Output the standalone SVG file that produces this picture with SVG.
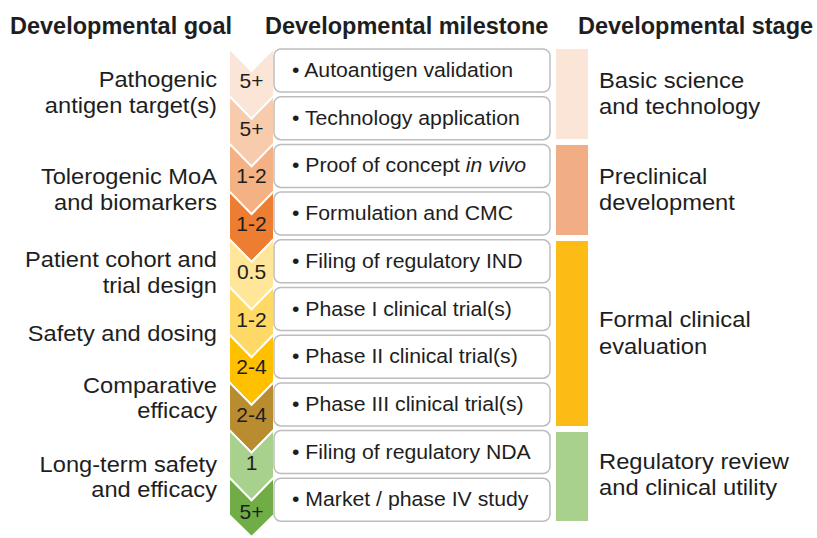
<svg xmlns="http://www.w3.org/2000/svg" width="817" height="538" viewBox="0 0 817 538">
<style>
text{font-family:"Liberation Sans",Arial,Helvetica,sans-serif;fill:#1e1e1e}
.hdr{font-size:23.5px;font-weight:bold}
.goal{font-size:21.5px;text-anchor:end}
.stage{font-size:22px}
.ms{font-size:19.5px}
.num{font-size:21px;text-anchor:middle}
.chev{stroke:#ffffff;stroke-width:2;stroke-linejoin:miter}
.box{fill:#ffffff;stroke:#bdbdbd;stroke-width:1.5}
</style>
<rect width="817" height="538" fill="#ffffff"/>
<g id="headers">
<text class="hdr" x="10" y="34">Developmental goal</text>
<text class="hdr" x="265" y="34">Developmental milestone</text>
<text class="hdr" x="578" y="34">Developmental stage</text>
</g>
<g id="goals">
<text class="goal" transform="translate(217 87) scale(1.1 1)">Pathogenic</text>
<text class="goal" transform="translate(217 113) scale(1.1 1)">antigen target(s)</text>
<text class="goal" transform="translate(217 184) scale(1.1 1)">Tolerogenic MoA</text>
<text class="goal" transform="translate(217 210) scale(1.1 1)">and biomarkers</text>
<text class="goal" transform="translate(217 267) scale(1.1 1)">Patient cohort and</text>
<text class="goal" transform="translate(217 293) scale(1.1 1)">trial design</text>
<text class="goal" transform="translate(217 341) scale(1.1 1)">Safety and dosing</text>
<text class="goal" transform="translate(217 393) scale(1.1 1)">Comparative</text>
<text class="goal" transform="translate(217 418) scale(1.1 1)">efficacy</text>
<text class="goal" transform="translate(217 472) scale(1.1 1)">Long-term safety</text>
<text class="goal" transform="translate(217 497) scale(1.1 1)">and efficacy</text>
</g>
<g id="row1">
<path class="chev" fill="#FBE5D6" d="M229,48 L251.5,71 L274,48 L274,96 L251.5,119 L229,96 Z"/>
<text class="num" x="251.5" y="88">5+</text>
<rect class="box" x="274" y="49" width="276" height="43" rx="7"/>
<text class="ms" transform="translate(292 77) scale(1.09 1)">• Autoantigen validation</text>
</g>
<g id="row2">
<path class="chev" fill="#F8CBAD" d="M229,95.7 L251.5,118.7 L274,95.7 L274,143.7 L251.5,166.7 L229,143.7 Z"/>
<text class="num" x="251.5" y="135.7">5+</text>
<rect class="box" x="274" y="96.7" width="276" height="43" rx="7"/>
<text class="ms" transform="translate(292 124.7) scale(1.09 1)">• Technology application</text>
</g>
<g id="row3">
<path class="chev" fill="#F4B183" d="M229,143.4 L251.5,166.4 L274,143.4 L274,191.4 L251.5,214.4 L229,191.4 Z"/>
<text class="num" x="251.5" y="183.4">1-2</text>
<rect class="box" x="274" y="144.4" width="276" height="43" rx="7"/>
<text class="ms" transform="translate(292 172.4) scale(1.09 1)">• Proof of concept <tspan font-style="italic">in vivo</tspan></text>
</g>
<g id="row4">
<path class="chev" fill="#ED7D31" d="M229,191.1 L251.5,214.1 L274,191.1 L274,239.1 L251.5,262.1 L229,239.1 Z"/>
<text class="num" x="251.5" y="231.1">1-2</text>
<rect class="box" x="274" y="192.1" width="276" height="43" rx="7"/>
<text class="ms" transform="translate(292 220.1) scale(1.09 1)">• Formulation and CMC</text>
</g>
<g id="row5">
<path class="chev" fill="#FFE699" d="M229,238.8 L251.5,261.8 L274,238.8 L274,286.8 L251.5,309.8 L229,286.8 Z"/>
<text class="num" x="251.5" y="278.8">0.5</text>
<rect class="box" x="274" y="239.8" width="276" height="43" rx="7"/>
<text class="ms" transform="translate(292 267.8) scale(1.09 1)">• Filing of regulatory IND</text>
</g>
<g id="row6">
<path class="chev" fill="#FFD966" d="M229,286.5 L251.5,309.5 L274,286.5 L274,334.5 L251.5,357.5 L229,334.5 Z"/>
<text class="num" x="251.5" y="326.5">1-2</text>
<rect class="box" x="274" y="287.5" width="276" height="43" rx="7"/>
<text class="ms" transform="translate(292 315.5) scale(1.09 1)">• Phase I clinical trial(s)</text>
</g>
<g id="row7">
<path class="chev" fill="#FFC000" d="M229,334.2 L251.5,357.2 L274,334.2 L274,382.2 L251.5,405.2 L229,382.2 Z"/>
<text class="num" x="251.5" y="374.2">2-4</text>
<rect class="box" x="274" y="335.2" width="276" height="43" rx="7"/>
<text class="ms" transform="translate(292 363.2) scale(1.09 1)">• Phase II clinical trial(s)</text>
</g>
<g id="row8">
<path class="chev" fill="#BA8C30" d="M229,381.9 L251.5,404.9 L274,381.9 L274,429.9 L251.5,452.9 L229,429.9 Z"/>
<text class="num" x="251.5" y="421.9">2-4</text>
<rect class="box" x="274" y="382.9" width="276" height="43" rx="7"/>
<text class="ms" transform="translate(292 410.9) scale(1.09 1)">• Phase III clinical trial(s)</text>
</g>
<g id="row9">
<path class="chev" fill="#A9D18E" d="M229,429.6 L251.5,452.6 L274,429.6 L274,477.6 L251.5,500.6 L229,477.6 Z"/>
<text class="num" x="251.5" y="469.6">1</text>
<rect class="box" x="274" y="430.6" width="276" height="43" rx="7"/>
<text class="ms" transform="translate(292 458.6) scale(1.09 1)">• Filing of regulatory NDA</text>
</g>
<g id="row10">
<path class="chev" fill="#70AD47" d="M229,477.3 L251.5,500.3 L274,477.3 L274,515 L251.5,537 L229,515 Z"/>
<text class="num" x="251.5" y="518.5">5+</text>
<rect class="box" x="274" y="478.3" width="276" height="43" rx="7"/>
<text class="ms" transform="translate(292 506.3) scale(1.09 1)">• Market / phase IV study</text>
</g>
<g id="stage1">
<rect x="556" y="49" width="32" height="90" fill="#FBE5D6"/>
<text class="stage" transform="translate(599 88) scale(1.08 1)">Basic science</text>
<text class="stage" transform="translate(599 114) scale(1.08 1)">and technology</text>
</g>
<g id="stage2">
<rect x="556" y="145" width="32" height="90" fill="#F1AD84"/>
<text class="stage" transform="translate(599 183.5) scale(1.08 1)">Preclinical</text>
<text class="stage" transform="translate(599 209.5) scale(1.08 1)">development</text>
</g>
<g id="stage3">
<rect x="556" y="241" width="32" height="185" fill="#FDBC15"/>
<text class="stage" transform="translate(599 327) scale(1.08 1)">Formal clinical</text>
<text class="stage" transform="translate(599 353.5) scale(1.08 1)">evaluation</text>
</g>
<g id="stage4">
<rect x="556" y="432" width="32" height="89" fill="#A9D18E"/>
<text class="stage" transform="translate(599 468.5) scale(1.08 1)">Regulatory review</text>
<text class="stage" transform="translate(599 495) scale(1.08 1)">and clinical utility</text>
</g>
</svg>
